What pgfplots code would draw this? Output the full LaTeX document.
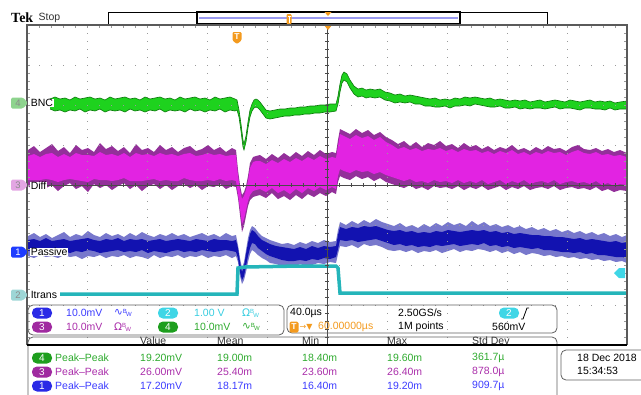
\documentclass[border=0pt]{standalone}
\usepackage{pgfplots}
\pgfplotsset{compat=1.18}
\usepackage{pgfplotstable}
\usepgfplotslibrary{fillbetween}
\usepackage{fontspec}
\setmainfont{Liberation Sans}
\newfontfamily\dv{DejaVu Sans}
\newfontfamily\tekfont{Liberation Serif}
\definecolor{grbright}{HTML}{1ED21E}
\definecolor{grdark}{HTML}{0B7A0B}
\definecolor{mgbright}{HTML}{E223E2}
\definecolor{mgdark}{HTML}{93309A}
\definecolor{blcore}{HTML}{1212B0}
\definecolor{bllight}{HTML}{7878CC}
\definecolor{cytrace}{HTML}{25B5BA}
\definecolor{txblue}{HTML}{3C3CFF}
\definecolor{txcyan}{HTML}{38CDE0}
\definecolor{txpurple}{HTML}{AA2EAA}
\definecolor{txgreen}{HTML}{2EAA2E}
\definecolor{bdblue}{HTML}{2A2AE6}
\definecolor{bdcyan}{HTML}{3FD6E6}
\definecolor{bdpurple}{HTML}{A02AA0}
\definecolor{bdgreen}{HTML}{1E9E1E}
\definecolor{tkorange}{HTML}{F39A1E}
\definecolor{gridgray}{HTML}{9A9A9A}
\definecolor{bordergray}{HTML}{5A5A5A}
\definecolor{crossgray}{HTML}{4A4A4A}
\definecolor{barblue}{HTML}{9A9AF0}
\definecolor{panelgray}{HTML}{606060}
\definecolor{mkfour}{HTML}{8ED48E}
\definecolor{mkthree}{HTML}{E3A6E3}
\definecolor{mkone}{HTML}{1E3CFF}
\definecolor{mktwo}{HTML}{9ED6D6}
\newcommand{\tf}{\fontsize{10.5bp}{12bp}\selectfont}
\newcommand{\bw}[1]{{\dv #1}\raisebox{2.5bp}{\fontsize{6bp}{6bp}\selectfont B}\kern-0.8bp\raisebox{-1.2bp}{\fontsize{6bp}{6bp}\selectfont W}}

% x = screen pixel (graticule 27..627, 40 us/div = 60 px), y = screen pixel from top (graticule 25..345)
\pgfplotstableread{
x hi lo
50 99 109
55 97 111
60 99 110
65 98 112
70 100 110
75 97 111
80 99 109
85 98 112
90 97 110
95 99 111
100 98 109
105 100 112
110 97 110
115 99 111
120 98 110
125 97 112
130 99 109
135 98 111
140 100 110
145 97 112
150 99 110
155 98 111
160 97 109
165 99 112
170 98 110
175 100 111
180 97 110
185 99 112
190 98 109
195 97 111
200 99 110
205 98 112
210 100 110
215 97 111
220 99 109
225 98 112
230 97 110
235 99 111
237 100 110
239 110 117
241 124 131
243 140 147
244 144 150
246 136 142
248 122 128
250 110 117
252 104 111
254 100 108
256 99 107
258 100 108
260 102 110
263 106 114
266 110 118
270 111 119
275 110 118
280 109 117
285 109 116
290 108 116
295 108 115
300 107 115
305 107 114
310 106 114
315 106 113
320 105 113
325 105 112
330 104 112
336 104 111
338 96 104
340 84 92
342 75 83
344 72 80
347 74 82
350 80 88
354 86 94
358 89 97
362 88 96
366 90 98
370 89 97
375 90 98
380 89 97
385 92 100
390 93 101
395 95 103
400 94 102
405 96 103
410 95 102
415 96 104
420 97 104
425 98 106
430 99 106
435 98 107
440 100 107
445 99 106
450 100 108
455 98 106
460 99 106
465 97 105
470 98 106
475 97 104
480 98 105
485 99 106
490 98 107
495 100 107
500 99 106
505 100 108
510 101 108
515 100 107
520 101 109
525 100 108
530 102 109
535 101 108
540 100 108
545 102 109
550 101 108
555 100 107
560 101 109
565 102 108
570 100 108
575 101 109
580 102 110
585 101 108
590 100 108
595 102 109
600 101 109
605 102 110
610 101 108
615 103 110
620 102 109
627 101 109
}\greendata

\pgfplotstableread{
x ohi ihi ilo olo
28 150 156 180 186
34 146 154 180 190
40 152 157 180 184
46 148 154 179 188
52 144 153 180 185
58 151 157 182 191
64 147 154 180 186
70 153 157 179 183
76 145 153 180 189
82 150 155 181 186
88 148 155 182 192
94 152 156 179 184
100 143 152 180 188
106 149 155 180 185
112 146 154 181 190
118 151 156 180 186
124 147 153 178 183
130 153 157 181 189
136 144 153 181 185
142 150 155 181 191
148 148 154 180 186
154 152 156 179 184
160 145 153 181 189
166 150 155 180 185
172 147 154 181 190
178 152 156 181 186
184 148 154 178 184
190 146 153 180 188
196 151 156 181 185
202 149 155 181 190
208 145 153 180 186
214 150 155 181 187
220 147 154 179 184
226 152 156 181 189
232 148 155 180 186
236 150 155 181 187
238 170 176 194 198
240 185 190 209 215
242 195 199 224 232
244 192 196 219 226
246 186 190 210 216
248 176 181 201 206
250 163 168 195 200
253 157 162 191 197
256 156 161 190 196
260 155 161 189 195
266 159 164 192 198
272 154 160 188 193
278 158 163 193 199
284 153 159 190 196
290 157 162 194 200
296 152 158 189 195
302 156 161 193 199
308 151 157 188 194
314 155 160 191 197
320 150 156 187 193
326 154 159 190 196
332 152 157 187 192
336 153 158 189 194
338 140 146 176 182
340 129 134 169 176
344 131 136 171 178
350 134 139 173 180
356 129 135 170 176
362 133 138 172 179
368 130 136 171 177
374 135 140 174 181
380 132 137 172 178
386 137 142 175 182
392 140 145 177 184
398 144 149 179 186
404 141 147 181 188
410 146 150 179 185
416 142 148 182 189
422 147 151 181 187
428 143 149 183 190
434 145 150 180 186
440 141 148 182 188
446 146 151 181 187
452 144 149 183 189
458 148 152 180 186
464 143 149 183 190
470 147 151 181 187
476 145 150 183 189
482 149 153 180 186
488 146 151 184 190
494 150 154 182 188
500 147 151 180 186
506 149 153 184 190
512 145 150 181 187
518 150 154 183 189
524 148 152 180 186
530 151 155 184 190
536 147 152 182 188
542 150 154 181 187
548 146 151 183 189
554 149 153 180 186
560 148 152 184 190
566 151 155 182 188
572 147 152 181 187
578 145 150 183 189
584 149 153 182 188
590 150 154 184 190
596 148 152 181 187
602 151 155 185 191
608 149 154 183 189
614 152 156 186 192
620 150 155 184 190
627 153 157 185 191
}\magdata

\pgfplotstableread{
x ohi ihi ilo olo
28 236 240 251 256
34 233 239 250 258
40 237 241 252 255
46 234 238 251 257
52 238 241 252 256
58 235 240 250 258
64 232 239 251 255
70 237 241 253 257
76 234 240 251 256
82 236 239 252 259
88 231 238 250 256
94 235 240 251 257
100 237 241 253 255
106 233 239 252 258
112 236 240 251 256
118 234 238 250 257
124 237 241 252 255
130 233 239 251 258
136 236 240 252 256
142 232 239 250 257
148 235 241 253 259
154 237 240 251 255
160 234 239 252 258
166 236 241 253 256
172 233 240 251 257
178 236 239 250 255
184 234 240 252 258
190 237 241 251 256
196 235 239 252 257
202 233 240 250 255
208 236 241 251 258
214 234 239 252 256
220 237 240 251 257
226 233 240 250 255
232 236 241 251 258
236 235 240 252 256
238 245 248 258 262
240 258 262 272 276
242 268 272 280 284
244 262 266 276 280
246 250 254 266 272
248 238 243 256 262
250 230 234 248 254
252 226 230 243 250
255 228 232 244 252
258 232 236 248 255
262 236 240 251 258
266 238 242 254 260
270 240 244 256 263
276 242 246 258 264
282 244 247 260 266
288 243 248 261 265
294 245 249 261 267
300 242 247 260 264
306 244 249 261 266
312 241 246 259 265
318 243 248 260 263
324 240 246 258 264
330 242 247 259 262
336 241 246 257 263
338 230 235 249 254
340 222 227 240 246
346 225 229 241 247
352 221 227 240 245
358 224 228 242 248
364 220 226 241 244
370 223 227 240 246
376 219 226 239 245
382 222 228 241 247
388 224 230 243 250
394 226 231 245 251
400 223 230 244 250
406 227 232 246 252
412 225 231 245 250
418 228 233 247 253
424 224 232 246 251
430 227 233 247 252
436 223 231 245 250
442 226 232 246 253
448 222 230 245 251
454 225 231 244 249
460 223 232 246 252
466 226 231 245 250
472 221 230 244 251
478 225 231 245 249
484 222 230 243 250
490 226 232 246 252
496 224 231 245 250
502 227 233 247 253
508 225 232 246 251
514 228 234 248 254
520 226 233 247 252
526 229 234 248 255
532 227 235 249 253
538 230 235 248 254
544 228 236 250 256
550 231 236 250 255
556 229 237 251 257
562 232 237 252 256
568 230 238 252 258
574 233 239 253 257
580 231 238 252 259
586 234 240 254 258
592 232 239 253 260
598 235 240 255 259
604 233 241 255 261
610 236 242 256 260
616 234 241 257 262
622 237 243 257 261
627 235 242 258 263
}\bluedata

\pgfplotstableread{
x y
60 294
237 294
238 268
245 267
300 266
336 266
338 268
340 293
400 293
500 293
627 293
}\cyandata

\newcommand{\chmark}[4]{%
  \fill[#2, rounded corners=1.5bp] (axis cs:28,#1) -- ++(-5bp,5.5bp) -- ++(-12bp,0bp) -- ++(0bp,-11bp) -- ++(12bp,0bp) -- cycle;
  \node[text=#3, font=\fontsize{9.5bp}{10bp}\selectfont, inner sep=0pt] at (axis cs:18,#1) {#4};}

\begin{document}
\begin{tikzpicture}[
  tx/.style={anchor=west, inner sep=0pt, font=\tf},
  badge/.style={rounded corners=5bp, minimum width=20bp, minimum height=11bp, inner sep=0pt, text=white, font=\fontsize{10bp}{11bp}\selectfont},
]
\begin{axis}[at={(27bp,-345bp)}, anchor=south west, scale only axis,
  width=600bp, height=320bp, xmin=27, xmax=627, ymin=25, ymax=345,
  y dir=reverse, hide axis, clip=false]

% graticule dots
\pgfplotsinvokeforeach{87,147,207,267,387,447,507,567}{
  \draw[gridgray, line width=0.9bp, dash pattern=on 0.9bp off 7.1bp] (axis cs:#1,25) -- (axis cs:#1,345);}
\pgfplotsinvokeforeach{65,105,145,225,265,305}{
  \draw[gridgray, line width=0.9bp, dash pattern=on 0.9bp off 11.1bp] (axis cs:27,#1) -- (axis cs:627,#1);}

% Ch2 Itrans
\addplot[cytrace, line width=3.5bp] table[x=x,y=y]{\cyandata};

% Ch4 BNC
\addplot[name path=gu, draw=grdark, line width=0.6bp] table[x=x,y=hi]{\greendata};
\addplot[name path=gl, draw=grdark, line width=0.6bp] table[x=x,y=lo]{\greendata};
\addplot[fill=grbright, draw=none] fill between[of=gu and gl];

% Ch3 Diff
\addplot[name path=mo1, draw=none] table[x=x,y=ohi]{\magdata};
\addplot[name path=mo2, draw=none] table[x=x,y=olo]{\magdata};
\addplot[name path=mi1, draw=none] table[x=x,y=ihi]{\magdata};
\addplot[name path=mi2, draw=none] table[x=x,y=ilo]{\magdata};
\addplot[fill=mgdark, draw=none] fill between[of=mo1 and mo2];
\addplot[fill=mgbright, draw=none] fill between[of=mi1 and mi2];

% Ch1 Passive
\addplot[name path=bo1, draw=none] table[x=x,y=ohi]{\bluedata};
\addplot[name path=bo2, draw=none] table[x=x,y=olo]{\bluedata};
\addplot[name path=bi1, draw=none] table[x=x,y=ihi]{\bluedata};
\addplot[name path=bi2, draw=none] table[x=x,y=ilo]{\bluedata};
\addplot[fill=bllight, draw=none] fill between[of=bo1 and bo2];
\addplot[fill=blcore, draw=none] fill between[of=bi1 and bi2];

% center crosshair
\draw[crossgray, line width=0.7bp] (axis cs:27,185) -- (axis cs:627,185);
\draw[crossgray, line width=0.7bp] (axis cs:327,25) -- (axis cs:327,345);
\draw[crossgray, line width=4bp, dash pattern=on 0.7bp off 11.3bp] (axis cs:26.65,185) -- (axis cs:627,185);
\draw[crossgray, line width=4bp, dash pattern=on 0.7bp off 7.3bp] (axis cs:327,24.65) -- (axis cs:327,345);

% border ticks
\draw[gridgray, line width=3bp, dash pattern=on 0.8bp off 11.2bp] (axis cs:26.6,26.5) -- (axis cs:627,26.5);
\draw[gridgray, line width=3bp, dash pattern=on 0.8bp off 7.2bp] (axis cs:28.5,24.6) -- (axis cs:28.5,345);
\draw[gridgray, line width=3bp, dash pattern=on 0.8bp off 7.2bp] (axis cs:625.5,24.6) -- (axis cs:625.5,345);

% trace labels
\node[tx, fill=white, inner sep=0.6bp] at (axis cs:30,103) {BNC};
\node[tx, fill=white, inner sep=0.6bp] at (axis cs:30,186) {Diff};
\node[tx, fill=white, inner sep=0.6bp] at (axis cs:30,252) {Passive};
\node[tx, fill=white, inner sep=0.6bp] at (axis cs:30,295) {Itrans};

% top bar
\node[anchor=west, inner sep=0pt, font=\tekfont\fontsize{14bp}{15bp}\selectfont\bfseries] at (axis cs:11,18) {Tek};
\node[anchor=west, inner sep=0pt, font=\fontsize{10.5bp}{12bp}\selectfont, text=black!80] at (axis cs:38.5,18) {Stop};
\draw[black, line width=0.7bp, fill=white] (axis cs:108,12) rectangle (axis cs:547,24);
\draw[black, line width=1.1bp] (axis cs:197,12) rectangle (axis cs:460,24);
\draw[barblue, line width=2bp] (axis cs:199,18) -- (axis cs:458,18);
\fill[tkorange, rounded corners=1bp] (axis cs:286.5,14) rectangle (axis cs:291.5,24);
\draw[white, line width=0.6bp] (axis cs:287.5,16) -- (axis cs:290.5,16) (axis cs:289,16) -- (axis cs:289,22.5);
\fill[tkorange] (axis cs:328,16) -- ++(-3.5bp,4bp) -- ++(7bp,0bp) -- cycle;

% trigger position markers
\fill[tkorange] (axis cs:328,30) -- ++(-4bp,5bp) -- ++(8bp,0bp) -- cycle;
\fill[tkorange, rounded corners=1.2bp] (axis cs:237,44) -- ++(-4.5bp,3.5bp) -- ++(0bp,8.5bp) -- ++(9bp,0bp) -- ++(0bp,-8.5bp) -- cycle;
\node[text=white, font=\fontsize{8.5bp}{9bp}\selectfont\bfseries, inner sep=0pt] at (axis cs:237,37) {T};

% trigger level arrow
\fill[bdcyan] (axis cs:614,273) -- ++(5bp,5bp) -- ++(6bp,0bp) -- ++(0bp,-10bp) -- ++(-6bp,0bp) -- cycle;

% settings panel
\draw[panelgray, line width=0.8bp, rounded corners=5bp] (axis cs:28,305) rectangle (axis cs:284,335);
\node[badge, fill=bdblue] at (axis cs:42,313) {1};
\node[tx, text=txblue] at (axis cs:66,313) {10.0mV};
\node[tx, text=txblue] at (axis cs:114,313) {\bw{∿}};
\node[badge, fill=bdcyan] at (axis cs:168,313) {2};
\node[tx, text=txcyan] at (axis cs:194,313) {1.00 V};
\node[tx, text=txcyan] at (axis cs:242,313) {\bw{Ω}};
\node[badge, fill=bdpurple] at (axis cs:42,327) {3};
\node[tx, text=txpurple] at (axis cs:66,327) {10.0mV};
\node[tx, text=txpurple] at (axis cs:114,327) {\bw{Ω}};
\node[badge, fill=bdgreen] at (axis cs:168,327) {4};
\node[tx, text=txgreen] at (axis cs:194,327) {10.0mV};
\node[tx, text=txgreen] at (axis cs:242,327) {\bw{∿}};

% timebase panel
\draw[panelgray, line width=0.8bp, rounded corners=5bp] (axis cs:287,305) rectangle (axis cs:557,333);
\node[tx] at (axis cs:290,313) {40.0µs};
\node[tx] at (axis cs:398,313) {2.50GS/s};
\node[badge, fill=bdcyan] at (axis cs:509,313) {2};
\draw[black, line width=0.8bp] (axis cs:521,319) -- (axis cs:523,319) -- (axis cs:527,308) -- (axis cs:529,308);
\node[rounded corners=1.5bp, fill=tkorange, text=white, inner sep=0pt, minimum width=9bp, minimum height=11bp, font=\fontsize{8.5bp}{9bp}\selectfont\bfseries] at (axis cs:294,327) {T};
\node[tx, text=tkorange, font=\dv\fontsize{8bp}{9bp}\selectfont] at (axis cs:299.5,327) {→▼};
\node[tx, text=tkorange] at (axis cs:318,327) {60.00000µs};
\node[tx] at (axis cs:398,327) {1M points};
\node[tx] at (axis cs:492,327) {560mV};

% measurement panel
\draw[panelgray, line width=0.8bp, rounded corners=5bp] (axis cs:28,337) rectangle (axis cs:557,402);
\node[tx, text=black!80] at (axis cs:140,341) {Value};
\node[tx, text=black!80] at (axis cs:217,341) {Mean};
\node[tx, text=black!80] at (axis cs:302,341) {Min};
\node[tx, text=black!80] at (axis cs:387,341) {Max};
\node[tx, text=black!80] at (axis cs:472,341) {Std Dev};

\node[badge, fill=bdgreen] at (axis cs:42,358) {4};
\node[tx, text=txgreen] at (axis cs:55,358) {Peak–Peak};
\node[tx, text=txgreen] at (axis cs:140,358) {19.20mV};
\node[tx, text=txgreen] at (axis cs:217,358) {19.00m};
\node[tx, text=txgreen] at (axis cs:302,358) {18.40m};
\node[tx, text=txgreen] at (axis cs:387,358) {19.60m};
\node[tx, text=txgreen] at (axis cs:472,358) {361.7µ};

\node[badge, fill=bdpurple] at (axis cs:42,372) {3};
\node[tx, text=txpurple] at (axis cs:55,372) {Peak–Peak};
\node[tx, text=txpurple] at (axis cs:140,372) {26.00mV};
\node[tx, text=txpurple] at (axis cs:217,372) {25.40m};
\node[tx, text=txpurple] at (axis cs:302,372) {23.60m};
\node[tx, text=txpurple] at (axis cs:387,372) {26.40m};
\node[tx, text=txpurple] at (axis cs:472,372) {878.0µ};

\node[badge, fill=bdblue] at (axis cs:42,386) {1};
\node[tx, text=txblue] at (axis cs:55,386) {Peak–Peak};
\node[tx, text=txblue] at (axis cs:140,386) {17.20mV};
\node[tx, text=txblue] at (axis cs:217,386) {18.17m};
\node[tx, text=txblue] at (axis cs:302,386) {16.40m};
\node[tx, text=txblue] at (axis cs:387,386) {19.20m};
\node[tx, text=txblue] at (axis cs:472,386) {909.7µ};

% date box
\draw[panelgray, line width=0.8bp, rounded corners=5bp] (axis cs:561,350) rectangle (axis cs:660,380);
\node[tx] at (axis cs:577,358) {18 Dec 2018};
\node[tx] at (axis cs:577,371) {15:34:53};

% graticule border
\draw[bordergray, line width=1.2bp] (axis cs:27,345) -- (axis cs:27,25) -- (axis cs:627,25) -- (axis cs:627,345);
\draw[black, line width=1.6bp] (axis cs:27,345) -- (axis cs:627,345);

% channel ground markers
\chmark{103}{mkfour}{black!45}{4}
\chmark{185}{mkthree}{black!45}{3}
\chmark{252}{mkone}{white}{1}
\chmark{295}{mktwo}{black!45}{2}
\end{axis}
\pgfresetboundingbox
\useasboundingbox (0,0) rectangle (641bp,-395bp);
\end{tikzpicture}
\end{document}
